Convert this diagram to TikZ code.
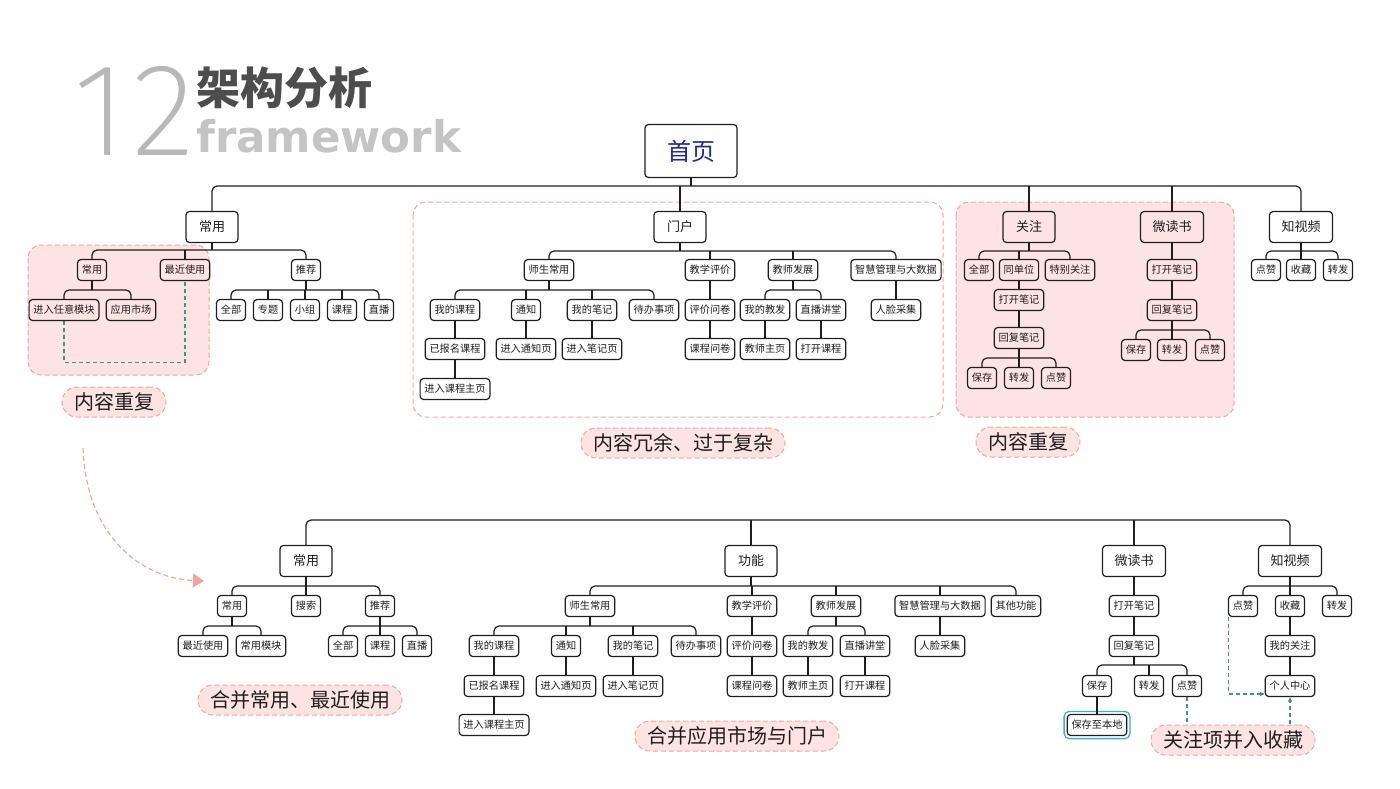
\documentclass[tikz,border=0pt]{standalone}
\usepackage{fontspec}
\usetikzlibrary{arrows.meta}
\newfontfamily\cjk{Noto Sans CJK SC}
\newfontfamily\dvs{DejaVu Sans}
\IfFontExistsTF{Fira Sans ExtraLight}{\newfontfamily\thinfont{Fira Sans ExtraLight}}{%
  \IfFontExistsTF{Fira Sans Light}{\newfontfamily\thinfont{Fira Sans Light}}{%
    \IfFontExistsTF{Lato Light}{\newfontfamily\thinfont{Lato Light}}{\newfontfamily\thinfont{Liberation Sans}}}}
\definecolor{pinkfill}{RGB}{253,228,226}
\definecolor{pinkline}{RGB}{244,164,158}
\definecolor{tealdash}{RGB}{58,150,124}
\definecolor{homeblue}{RGB}{28,40,160}
\definecolor{titlegray}{RGB}{77,77,77}
\definecolor{lightgray}{RGB}{196,196,196}
\definecolor{numgray}{RGB}{184,184,184}
\definecolor{glowblue}{RGB}{60,170,235}
\definecolor{ink}{RGB}{30,30,30}

\begin{document}
\begin{tikzpicture}[x=1pt,y=-1pt,
  box/.style={draw=ink, line width=1.2pt, rounded corners=3.5pt, inner xsep=4.3pt, inner ysep=0pt,
    minimum height=21pt, text=ink, font=\cjk\fontsize{10.2}{12}\selectfont},
  head/.style={box, minimum height=31pt, minimum width=52pt, inner xsep=12pt, font=\cjk\fontsize{13}{15}\selectfont},
  home/.style={box, minimum height=53pt, minimum width=92pt, text=homeblue, font=\cjk\fontsize{24}{28}\selectfont},
  tree/.style={draw=ink, line width=1.2pt, rounded corners=5pt},
  region/.style={draw=pinkline, line width=1pt, dash pattern=on 5pt off 3pt, rounded corners=13pt},
  pill/.style={draw=pinkline, fill=pinkfill, line width=1pt, dash pattern=on 5pt off 3pt, rounded corners=15pt,
    minimum height=30pt, inner xsep=12pt, inner ysep=0pt, text=ink, font=\cjk\fontsize{20}{22}\selectfont},
  link/.style={draw=tealdash, line width=1.1pt, dash pattern=on 4pt off 3pt}]
\useasboundingbox (0,0) rectangle (1400,788);

% Title
\node[anchor=base, inner sep=0pt, text=numgray, font=\thinfont\fontsize{132}{132}\selectfont] (num1) at (100,155) {1};
\node[anchor=base, inner sep=0pt, text=numgray, font=\thinfont\fontsize{132}{132}\selectfont] (num2) at (164,155) {2};
\node[anchor=base west, inner sep=0pt, text=titlegray, font=\cjk\bfseries\fontsize{44}{44}\selectfont] (title-cn) at (196,104) {架构分析};
\node[anchor=base west, inner sep=0pt, text=lightgray, font=\dvs\bfseries\fontsize{43.5}{44}\selectfont] (title-en) at (196,152) {framework};

% Regions
\draw[region, fill=pinkfill] (28,245) rectangle (209,375);
\draw[region] (413,202) rectangle (943,417);
\draw[region, fill=pinkfill] (956,202) rectangle (1234,417);

% Top tree
\node[home] (home) at (691,151) {首页};
\node[head] (t-cy) at (212,227) {常用};
\node[head] (t-mh) at (680,227) {门户};
\node[head] (t-gz) at (1029,227) {关注};
\node[head] (t-wd) at (1172,227) {微读书};
\node[head] (t-zs) at (1301,227) {知视频};

\node[box] (t-cy1) at (92,270) {常用};
\node[box] (t-cy2) at (185,270) {最近使用};
\node[box] (t-cy3) at (306,270) {推荐};
\node[box] (t-cy11) at (64,310) {进入任意模块};
\node[box] (t-cy12) at (131,310) {应用市场};
\node[box] (t-tj1) at (231,310) {全部};
\node[box] (t-tj2) at (268,310) {专题};
\node[box] (t-tj3) at (305,310) {小组};
\node[box] (t-tj4) at (342,310) {课程};
\node[box] (t-tj5) at (379,310) {直播};

\node[box] (t-ss) at (549,270) {师生常用};
\node[box] (t-pj) at (710,270) {教学评价};
\node[box] (t-fz) at (793,270) {教师发展};
\node[box] (t-zh) at (896,270) {智慧管理与大数据};
\node[box] (t-ss1) at (455,310) {我的课程};
\node[box] (t-ss2) at (526,310) {通知};
\node[box] (t-ss3) at (592,310) {我的笔记};
\node[box] (t-ss4) at (654,310) {待办事项};
\node[box] (t-pj1) at (710,310) {评价问卷};
\node[box] (t-fz1) at (765,310) {我的教发};
\node[box] (t-fz2) at (821,310) {直播讲堂};
\node[box] (t-zh1) at (896,310) {人脸采集};
\node[box] (t-ss11) at (455,349) {已报名课程};
\node[box] (t-ss21) at (526,349) {进入通知页};
\node[box] (t-ss31) at (592,349) {进入笔记页};
\node[box] (t-pj11) at (710,349) {课程问卷};
\node[box] (t-fz11) at (765,349) {教师主页};
\node[box] (t-fz21) at (821,349) {打开课程};
\node[box] (t-ss111) at (455,389) {进入课程主页};

\node[box] (t-gz1) at (979,270) {全部};
\node[box] (t-gz2) at (1019,270) {同单位};
\node[box] (t-gz3) at (1070,270) {特别关注};
\node[box] (t-gz21) at (1019,300) {打开笔记};
\node[box] (t-gz22) at (1019,338) {回复笔记};
\node[box] (t-gz23) at (982,378) {保存};
\node[box] (t-gz24) at (1019,378) {转发};
\node[box] (t-gz25) at (1056,378) {点赞};

\node[box] (t-wd1) at (1172,270) {打开笔记};
\node[box] (t-wd2) at (1172,310) {回复笔记};
\node[box] (t-wd3) at (1136,350) {保存};
\node[box] (t-wd4) at (1172,350) {转发};
\node[box] (t-wd5) at (1210,350) {点赞};

\node[box] (t-zs1) at (1266,270) {点赞};
\node[box] (t-zs2) at (1301,270) {收藏};
\node[box] (t-zs3) at (1338,270) {转发};

% Bottom tree
\node[head] (b-cy) at (306,561) {常用};
\node[head] (b-gn) at (751,561) {功能};
\node[head] (b-wd) at (1134,561) {微读书};
\node[head] (b-zs) at (1290,561) {知视频};

\node[box] (b-cy1) at (232,606) {常用};
\node[box] (b-cy2) at (306,606) {搜索};
\node[box] (b-cy3) at (380,606) {推荐};
\node[box] (b-cy11) at (203,646) {最近使用};
\node[box] (b-cy12) at (261,646) {常用模块};
\node[box] (b-tj1) at (343,646) {全部};
\node[box] (b-tj2) at (380,646) {课程};
\node[box] (b-tj3) at (417,646) {直播};

\node[box] (b-ss) at (590,606) {师生常用};
\node[box] (b-pj) at (752,606) {教学评价};
\node[box] (b-fz) at (836,606) {教师发展};
\node[box] (b-zh) at (940,606) {智慧管理与大数据};
\node[box] (b-qt) at (1016,606) {其他功能};
\node[box] (b-ss1) at (494,646) {我的课程};
\node[box] (b-ss2) at (566,646) {通知};
\node[box] (b-ss3) at (633,646) {我的笔记};
\node[box] (b-ss4) at (696,646) {待办事项};
\node[box] (b-pj1) at (752,646) {评价问卷};
\node[box] (b-fz1) at (808,646) {我的教发};
\node[box] (b-fz2) at (865,646) {直播讲堂};
\node[box] (b-zh1) at (940,646) {人脸采集};
\node[box] (b-ss11) at (494,686) {已报名课程};
\node[box] (b-ss21) at (566,686) {进入通知页};
\node[box] (b-ss31) at (633,686) {进入笔记页};
\node[box] (b-pj11) at (752,686) {课程问卷};
\node[box] (b-fz11) at (808,686) {教师主页};
\node[box] (b-fz21) at (865,686) {打开课程};
\node[box] (b-ss111) at (494,725) {进入课程主页};

\node[box] (b-wd1) at (1134,606) {打开笔记};
\node[box] (b-wd2) at (1134,646) {回复笔记};
\node[box] (b-wd3) at (1097,686) {保存};
\node[box] (b-wd4) at (1149,686) {转发};
\node[box] (b-wd5) at (1187,686) {点赞};
\node[box] (b-wd31) at (1097,725) {保存至本地};
\draw[glowblue, line width=1.3pt, rounded corners=5pt] ([xshift=-2.5pt,yshift=-2.5pt]b-wd31.south west) rectangle ([xshift=2.5pt,yshift=2.5pt]b-wd31.north east);

\node[box] (b-zs1) at (1243,606) {点赞};
\node[box] (b-zs2) at (1290,606) {收藏};
\node[box] (b-zs3) at (1337,606) {转发};
\node[box] (b-zs21) at (1290,646) {我的关注};
\node[box] (b-zs22) at (1290,686) {个人中心};

% Buses: parent / bus y / first child / last child
\draw[tree] (home.south) -- (home.south |- 0,186);
\draw[tree] (t-cy.north) -- (t-cy.north |- 0,186) -- (t-zs.north |- 0,186) -- (t-zs.north);
\draw[tree] (b-cy.north) -- (b-cy.north |- 0,520) -- (b-zs.north |- 0,520) -- (b-zs.north);
\foreach \p/\y/\a/\b in {t-cy/250/t-cy1/t-cy3, t-cy1/290/t-cy11/t-cy12, t-cy3/290/t-tj1/t-tj5,
    t-mh/251/t-ss/t-zh, t-ss/290/t-ss1/t-ss4, t-fz/290/t-fz1/t-fz2,
    t-gz/251/t-gz1/t-gz3, t-gz22/358/t-gz23/t-gz25, t-wd2/330/t-wd3/t-wd5, t-zs/251/t-zs1/t-zs3,
    b-cy/586/b-cy1/b-cy3, b-cy1/626/b-cy11/b-cy12, b-cy3/626/b-tj1/b-tj3,
    b-gn/586/b-ss/b-qt, b-ss/626/b-ss1/b-ss4, b-fz/626/b-fz1/b-fz2,
    b-wd2/665/b-wd3/b-wd5, b-zs/586/b-zs1/b-zs3} {
  \draw[tree] (\p.south) -- (\p.south |- 0,\y);
  \draw[tree] (\a.north) -- (\a.north |- 0,\y) -- (\b.north |- 0,\y) -- (\b.north);
}
% Middle drops
\foreach \c/\y in {t-mh/186, t-gz/186, t-wd/186, t-cy2/250, t-tj2/290, t-tj3/290, t-tj4/290,
    t-pj/251, t-fz/251, t-ss2/290, t-ss3/290, t-gz2/251, t-gz24/358, t-wd4/330, t-zs2/251,
    b-gn/520, b-wd/520, b-cy2/586, b-tj2/626, b-pj/586, b-fz/586, b-zh/586,
    b-ss2/626, b-ss3/626, b-wd4/665, b-zs2/586}
  \draw[tree] (\c.north) -- (\c.north |- 0,\y);
% Straight lines
\foreach \a/\b in {t-pj/t-pj1, t-pj1/t-pj11, t-fz1/t-fz11, t-fz2/t-fz21, t-zh/t-zh1,
    t-ss1/t-ss11, t-ss11/t-ss111, t-ss2/t-ss21, t-ss3/t-ss31,
    t-gz2/t-gz21, t-gz21/t-gz22, t-wd/t-wd1, t-wd1/t-wd2,
    b-pj/b-pj1, b-pj1/b-pj11, b-fz1/b-fz11, b-fz2/b-fz21, b-zh/b-zh1,
    b-ss1/b-ss11, b-ss11/b-ss111, b-ss2/b-ss21, b-ss3/b-ss31,
    b-wd/b-wd1, b-wd1/b-wd2, b-wd3/b-wd31, b-zs2/b-zs21, b-zs21/b-zs22}
  \draw[tree] (\a) -- (\b);

% Dashed links
\draw[link] (t-cy11.south) -- ++(0,41) -| (t-cy2.south);
\draw[link, -{Stealth[length=5pt,width=4.5pt]}] ([xshift=1pt]b-zs1.south west) |- ([yshift=-8pt]b-zs22.west);
\draw[link, -{Stealth[length=5pt,width=4.5pt]}] (b-wd5.south) -- ++(0,46) -| (b-zs22.south);

% Move arrow
\coordinate (move-start) at (83,448);
\coordinate (move-end) at (204,581);
\draw[pinkline, line width=1.2pt, dash pattern=on 5pt off 3pt, -{Triangle[length=11pt,width=14pt]}]
  (move-start) .. controls (86,535) and (140,578) .. (move-end);

% Notes
\node[pill] (note1) at (114,402) {内容重复};
\node[pill] (note2) at (683,443) {内容冗余、过于复杂};
\node[pill] (note3) at (1028,442) {内容重复};
\node[pill] (note4) at (300,700) {合并常用、最近使用};
\node[pill] (note5) at (737,736) {合并应用市场与门户};
\node[pill] (note6) at (1233,740) {关注项并入收藏};
\end{tikzpicture}
\end{document}
